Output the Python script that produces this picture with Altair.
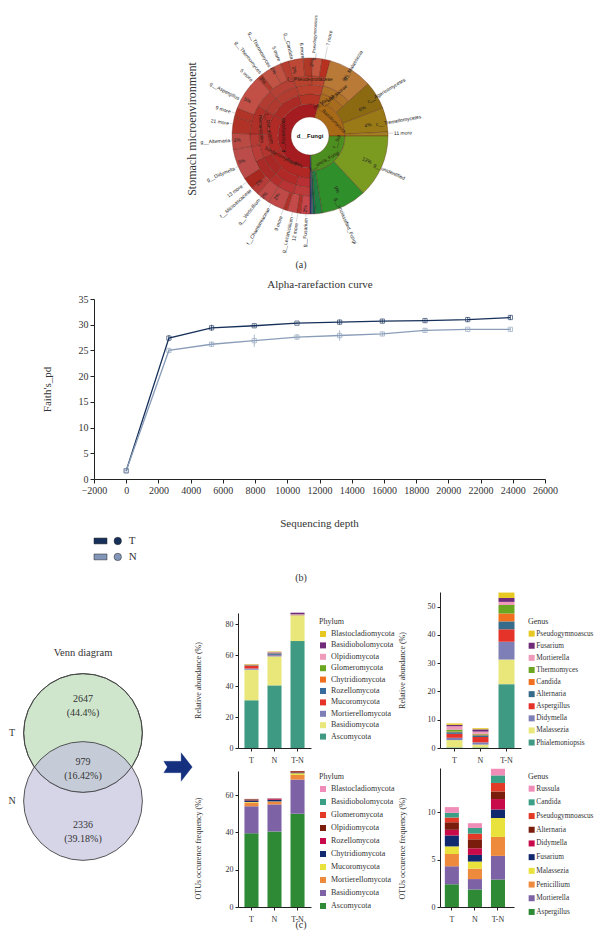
import math
import altair as alt
import pandas as pd

SERIF = "Liberation Serif"
SANS = "Liberation Sans"
INK = "#333333"

# ---------- (a) krona ----------
CX, CY = 300, 128
seg_r0 = [19,19,19,19, 32,32,32,32, 42,42,42,42,42,42,42,42, 51,51,51,51,51,51,51,51,51,51,51,
          60,60,60,60,60,60,60,60,60,60,60,60,60,60,60,60,60,60,60,60,60,
          35,44,52,35,35,35, 35,35,35,35,35,35]
seg_r1 = [32,35,35,35, 42,42,42,42, 51,51,51,51,51,51,51,51, 60,60,60,60,60,60,60,60,60,60,60,
          78,78,78,78,78,78,78,78,78,78,78,78,78,78,78,78,78,78,78,78,78,
          44,52,78,78,78,78, 78,78,78,78,78,78]
seg_a0 = [180,15,90,178, 180,245,300,345, 180,196,222,245,272,300,318,345, 180,196,212,222,245,260,272,300,318,344,362,
          180,187,190,197,200,212,222,228,237,260,272,284,291,318,322,331,338,344,355,362,369,
          15,15,15,48,69,87, 90,137,171,176,178,179]
seg_a1 = [375,90,178,180, 245,300,345,375, 196,222,245,272,300,318,345,375, 196,212,222,245,260,272,300,318,344,362,375,
          187,190,197,200,212,222,228,237,260,272,284,291,318,322,331,338,344,355,362,369,375,
          48,48,48,69,87,90, 137,171,176,178,179,180]
seg_col = ["#a51c20","#a96a18","#4d8e20","#1f4f8f",
           "#b12724","#b02a26","#aa2a25","#b43526",
           "#b83033","#b12a28","#a82826","#b53530","#ad2e28","#b03a30","#b23c30","#b8402c",
           "#bc3a3a","#b83434","#b22e2c","#a92a26","#b83c38","#b63a34","#ae3028","#b33c32","#b54036","#b8422e","#bb4630",
           "#c8454c","#b23028","#c44a4a","#b23028","#c04a48","#bf4a48","#b63a38","#a8271f","#bb4c4a","#ba4a44","#b13226",
           "#b03428","#c25046","#b23a2c","#c25446","#c05244","#b63e30","#bd4836","#b03826","#c4553f","#b8301f",
           "#a86c1e","#ae7226","#b97a38","#8c6a12","#9a7a16","#a08020",
           "#7a9a20","#2f8f2a","#1f8040","#0c6a50","#1f6fa0","#1a3a8a"]

out_t = [3,11,31,59,80,88,114,157,183,189,193,200,210,219,228,234,247,267,279,287,298,314,322,330,338,347,355]
out_r = [76,92,66,67,67,84,70,67,82,88,83,85,83,81,80,84,82,80,82,83,80,80,80,80,81,79,78]
out_f = [4.2] + [5] * 26
out_txt = ["g__Pseudogymnoascus","7 more","g__Malassezia","c__Agaricomycetes","c__Tremellomycetes","11 more",
           "g__unidentified","g__unclassified_Fungi","g__Fusarium","12 more","g__Lecanicillium","9 more",
           "f__Chaetomiaceae","g__Verticillium","f__Microascaceae","13 more","g__Didymella","g__Alternaria",
           "21 more","9 more","g__Aspergillus","5 more","g__Thermomyces","g__Thermomyces","5 more","g__Candida","6 more"]
pct_t = [1,347,331,320,300,267,250,228,218,209,184,153,113,62,79,31]
pct_r = [73,68,75,73,72,73,73,69,75,69,73,60,62,59,59,68]
pct_txt = ["2%","3%","2%","3%","5%","3%","5%","2%","2%","2%","2%","9%","12%","6%","4%","9%"]
inner_t = [0,32,24,50,280,272,278,235,210,150,102]
inner_r = [56,47,38,27,42,26,50,36,31,29,28]
inner_ang = [0,320,330,45,80,270,85,28,28,330,290]
inner_txt = ["f__Pseudeurotiaceae","f__Mal_iaceae","o__Mal_ales","p__Basidiomycota","f__Dot_yosom",
             "p__Ascomycota","Pleosporales","Sordariomycetes","o__ales","k__uncla_Fungi","f__Sol"]


def polar(t, r):
    a = math.radians(t)
    return CX + r * math.sin(a), CY - r * math.cos(a)


df_seg = pd.DataFrame({"r0": seg_r0, "r1": seg_r1, "a0": [math.radians(v) for v in seg_a0],
                       "a1": [math.radians(v) for v in seg_a1], "col": seg_col})
arcs = alt.Chart(df_seg).mark_arc(stroke="#5e2418", strokeWidth=0.35).encode(
    theta=alt.Theta("a0:Q", scale=None, stack=None), theta2="a1:Q",
    radius=alt.Radius("r1:Q", scale=None), radius2="r0:Q",
    color=alt.Color("col:N", scale=None),
    x=alt.value(CX), y=alt.value(CY))
df_hole = pd.DataFrame({"x": [CX], "y": [CY], "t": ["d__Fungi"]})


def lab_rows():
    rows = []
    for t, r, s, f in zip(out_t, out_r, out_txt, out_f):
        x, y = polar(t, r)
        ang = (t - 90) % 360 if t <= 180 else (t + 90) % 360
        rows.append(dict(x=x, y=y, ang=ang, s=s, f=f, side="L" if t <= 180 else "R"))
    return pd.DataFrame(rows)


df_lab = lab_rows()
def txt_enc(**kw):
    return dict(x=alt.X("x:Q", scale=None), y=alt.Y("y:Q", scale=None),
                angle=alt.Angle("ang:Q", scale=None), text="s:N", **kw)
lab_l = alt.Chart(df_lab[df_lab.side == "L"]).mark_text(font=SANS, align="left", baseline="middle", color="#222222").encode(
    size=alt.Size("f:Q", scale=None), **txt_enc())
lab_r = alt.Chart(df_lab[df_lab.side == "R"]).mark_text(font=SANS, align="right", baseline="middle", color="#222222").encode(
    size=alt.Size("f:Q", scale=None), **txt_enc())
rows = []
for t, r, s in zip(pct_t, pct_r, pct_txt):
    x, y = polar(t, r)
    rows.append(dict(x=x, y=y, ang=(t - 90) % 360 if t <= 180 else (t + 90) % 360, s=s))
lab_p = alt.Chart(pd.DataFrame(rows)).mark_text(font=SANS, fontSize=5, baseline="middle", color="#222222").encode(**txt_enc())
rows = []
for t, r, a, s in zip(inner_t, inner_r, inner_ang, inner_txt):
    x, y = polar(t, r)
    rows.append(dict(x=x, y=y, ang=a, s=s))
lab_i = alt.Chart(pd.DataFrame(rows)).mark_text(font=SANS, fontSize=4.8, baseline="middle", color="#2a1a10").encode(**txt_enc())
rows = []
for t, r in zip(out_t, out_r):
    if r >= 78 and t not in (3,):
        x, y = polar(t, 78)
        x2, y2 = polar(t, r - 1)
        rows.append(dict(x=x, y=y, x2=x2, y2=y2))
lead = alt.Chart(pd.DataFrame(rows)).mark_rule(color="#999999", strokeWidth=0.4).encode(
    x=alt.X("x:Q", scale=None), y=alt.Y("y:Q", scale=None), x2="x2:Q", y2="y2:Q")
center = alt.Chart(df_hole).mark_text(font=SANS, fontSize=6, fontWeight="bold", color="#111111").encode(
    x=alt.X("x:Q", scale=None), y=alt.Y("y:Q", scale=None), text="t:N")
stomach = alt.Chart(pd.DataFrame({"s": ["Stomach microenvironment"]})).mark_text(
    font=SERIF, fontSize=12, angle=270, color=INK, baseline="middle").encode(x=alt.value(182), y=alt.value(121), text="s:N")
tag_a = alt.Chart(pd.DataFrame({"s": ["(a)"]})).mark_text(font=SERIF, fontSize=10, color=INK, baseline="middle").encode(
    x=alt.value(291), y=alt.value(257), text="s:N")
guard = alt.Chart(pd.DataFrame({"g": [0]})).mark_rule(opacity=0).encode(x=alt.value(0), x2=alt.value(10), y=alt.value(-10))
panel_a = alt.layer(arcs, lead, lab_l, lab_r, lab_p, lab_i, center, stomach, tag_a, guard).properties(width=586, height=178)

# ---------- (b) rarefaction ----------
depth = [0, 2650, 5300, 7950, 10600, 13250, 15900, 18550, 21200, 23850]
t_y = [1.6, 27.4, 29.4, 29.8, 30.3, 30.5, 30.7, 30.8, 31.0, 31.4]
n_y = [1.6, 25.0, 26.2, 26.9, 27.6, 27.9, 28.2, 28.9, 29.1, 29.1]
t_err = [0.1, 0.6, 0.6, 0.3, 0.2, 0.5, 0.4, 0.4, 0.5, 0.5]
n_err = [0.1, 0.4, 0.5, 1.2, 0.5, 1.0, 0.4, 0.4, 0.2, 0.3]
df_b = pd.concat([
    pd.DataFrame({"x": depth, "y": t_y, "lo": [a - b for a, b in zip(t_y, t_err)], "hi": [a + b for a, b in zip(t_y, t_err)], "g": "T"}),
    pd.DataFrame({"x": depth, "y": n_y, "lo": [a - b for a, b in zip(n_y, n_err)], "hi": [a + b for a, b in zip(n_y, n_err)], "g": "N"})])
x_b = alt.X("x:Q", scale=alt.Scale(domain=[-2000, 26000], range=[84, 535], nice=False),
            axis=alt.Axis(values=list(range(-2000, 26001, 2000)), tickCount=30, format="d", grid=False, labelFont=SERIF, labelFontSize=10,
                          labelColor=INK, domainColor="#222222", tickColor="#222222", tickSize=4, labelOverlap=False, labelFlush=False,
                          title="Sequencing depth", titleFont=SERIF, titleFontSize=11, titleFontWeight="normal", titleColor=INK,
                          titleX=309, titleY=38))
y_b = alt.Y("y:Q", scale=alt.Scale(domain=[0, 35], range=[180, 0], nice=False),
            axis=alt.Axis(values=[0, 5, 10, 15, 20, 25, 30, 35], tickCount=30, format="d", grid=False, labelFont=SERIF, labelFontSize=10, labelColor=INK,
                          domainColor="#222222", tickColor="#222222", tickSize=4, offset=-84, labelOverlap=False, labelFlush=False,
                          title="Faith's_pd", titleFont=SERIF, titleFontSize=11, titleFontWeight="normal", titleColor=INK,
                          titleX=-42, titleY=90))
col_b = alt.Color("g:N", scale=alt.Scale(domain=["T", "N"], range=["#16305a", "#8a9db8"]), legend=None)
line_b = alt.Chart(df_b).mark_line(strokeWidth=1.3).encode(x=x_b, y=y_b, color=col_b, detail="g:N", order=alt.Order("x:Q"))
rule_b = alt.Chart(df_b).mark_rule(strokeWidth=0.7).encode(x="x:Q", y="lo:Q", y2="hi:Q", color=col_b)
pt_b = alt.Chart(df_b).mark_point(shape="square", size=18, strokeWidth=0.9, filled=False).encode(x="x:Q", y="y:Q", color=col_b)
leg_x = [-2000, -2000]; leg_y = [-12.05, -15.15]; leg_c = ["#16305a", "#8296b8"]
df_leg = pd.DataFrame({"x": leg_x, "y": leg_y, "c": leg_c, "cx": [-525, -525], "tx": [159, 159], "s": ["T", "N"]})
leg_rect = alt.Chart(df_leg).mark_point(shape="M0 -0.45 H2 V0.45 H0 Z", size=169, filled=True, opacity=1, stroke="#222", strokeWidth=0.5).encode(
    x="x:Q", y="y:Q", fill=alt.Fill("c:N", scale=None))
leg_c_m = alt.Chart(df_leg).mark_point(shape="circle", size=55, filled=True, opacity=1, stroke="#222", strokeWidth=0.5).encode(
    x="cx:Q", y="y:Q", fill=alt.Fill("c:N", scale=None))
leg_t = alt.Chart(df_leg).mark_text(font=SERIF, fontSize=11, align="left", color=INK, baseline="middle").encode(
    x="tx:Q", y="y:Q", text="s:N")
title_b = alt.Chart(pd.DataFrame({"s": ["Alpha-rarefaction curve"]})).mark_text(font=SERIF, fontSize=11, color=INK, baseline="middle").encode(
    x=alt.value(310), y=alt.value(-14), text="s:N")
tag_b = alt.Chart(pd.DataFrame({"s": ["(b)"]})).mark_text(font=SERIF, fontSize=10, color=INK, baseline="middle").encode(
    x=alt.value(291), y=alt.value(279), text="s:N")
panel_b = alt.layer(line_b, rule_b, pt_b, leg_rect, leg_c_m, leg_t, title_b, tag_b).properties(width=535, height=180)

# ---------- (c) venn ----------
vx = [73, 73]; vy = [141, 209]; v_r = 67
v_fill = ["#cfe6cd", "#c0bfdc"]
df_v = pd.DataFrame({"x": vx, "y": vy, "c": v_fill, "a": [math.pi * v_r ** 2] * 2})
c1 = alt.Chart(df_v.iloc[:1]).mark_point(shape="circle", filled=True, opacity=1, fill=v_fill[0], stroke="#444444", strokeWidth=0.9).encode(
    x=alt.X("x:Q", scale=None), y=alt.Y("y:Q", scale=None), size=alt.Size("a:Q", scale=None))
c2 = alt.Chart(df_v.iloc[1:]).mark_point(shape="circle", filled=True, opacity=1, fill=v_fill[1], fillOpacity=0.65, stroke="#444444", strokeWidth=0.9).encode(
    x=alt.X("x:Q", scale=None), y=alt.Y("y:Q", scale=None), size=alt.Size("a:Q", scale=None))
c3 = alt.Chart(df_v.iloc[:1]).mark_point(shape="circle", filled=False, opacity=1, stroke="#444444", strokeWidth=0.9).encode(
    x=alt.X("x:Q", scale=None), y=alt.Y("y:Q", scale=None), size=alt.Size("a:Q", scale=None))
vt_x = [73, 73, 73, 73, 73, 73, 73, 2, 2]
vt_y = [107, 121, 170, 184, 233, 247, 61, 141, 209]
vt_s = ["2647", "(44.4%)", "979", "(16.42%)", "2336", "(39.18%)", "Venn diagram", "T", "N"]
vt_f = [10, 10, 10, 10, 10, 10, 10.5, 10, 10]
df_vt = pd.DataFrame({"x": vt_x, "y": vt_y, "s": vt_s, "f": vt_f})
vt = alt.Chart(df_vt).mark_text(font=SERIF, color=INK, align="center", baseline="middle").encode(
    x=alt.X("x:Q", scale=None), y=alt.Y("y:Q", scale=None), text="s:N", size=alt.Size("f:Q", scale=None))
arrow = alt.Chart(pd.DataFrame({"x": [168], "y": [175], "a": [810]})).mark_point(
    shape="M-1 -0.4 L0.22 -0.4 L0.22 -1 L1 0 L0.22 1 L0.22 0.4 L-1 0.4 L-0.75 0 Z", filled=True, opacity=1, fill="#14307f", stroke="#14307f", strokeWidth=0.3).encode(
    x=alt.X("x:Q", scale=None), y=alt.Y("y:Q", scale=None), size=alt.Size("a:Q", scale=None))
panel_v = alt.layer(c1, c2, c3, vt, arrow).properties(width=228, height=156)

# ---------- (c) bars ----------
groups = ["T", "N", "T-N"]
p1_names = ["Ascomycota","Basidiomycota","Mortierellomycota","Mucoromycota","Rozellomycota","Chytridiomycota","Glomeromycota","Olpidiomycota","Basidiobolomycota","Blastocladiomycota"]
p1_cols = ["#3f9a84","#e9e77a","#7f7fb8","#e5332a","#376b9c","#f07020","#6aa620","#ee9ab8","#6f2b79","#e6c820"]
p1_T = [30.8,19.7,0.8,1.6,0.4,0.3,0.1,0.1,0.1,0.3]
p1_N = [40.4,18.7,0.8,0.2,1.0,0.3,0.1,0.3,0.2,0.3]
p1_TN = [69.0,16.6,0.1,0.1,0.1,0.1,0.1,0.2,1.0,0.0]

p2_names = ["Phialemoniopsis","Malassezia","Didymella","Aspergillus","Alternaria","Candida","Thermomyces","Mortierella","Fusarium","Pseudogymnoascus"]
p2_cols = ["#3f9a84","#e9e77a","#7f7fb8","#e5332a","#376b8c","#f07020","#6aa620","#ee9ab8","#6f2b79","#e6c820"]
p2_T = [0.2,2.6,0.8,1.4,0.6,0.2,0.7,1.2,0.5,0.5]
p2_N = [0.2,1.0,0.8,1.9,0.6,0.3,0.2,0.8,0.8,0.4]
p2_TN = [22.6,8.7,6.3,4.4,2.8,2.8,3.0,1.1,1.4,1.9]

p3_names = ["Ascomycota","Basidiomycota","Mortierellomycota","Mucoromycota","Chytridiomycota","Rozellomycota","Olpidiomycota","Glomeromycota","Basidiobolomycota","Blastocladiomycota"]
p3_cols = ["#2f8a36","#7e62a6","#ee8a3c","#e9e23c","#10296e","#c80a4a","#7a1d0d","#e33a28","#3a9f85","#f08cb8"]
p3_T = [39.5,14.5,2.0,0.3,0.7,0.1,0.6,0.1,0.1,0.1]
p3_N = [40.5,14.5,1.5,0.1,0.9,0.5,0.1,0.1,0.1,0.1]
p3_TN = [50.0,18.3,2.5,0.9,0.3,0.1,0.7,0.1,0.0,0.0]

p4_names = ["Aspergillus","Mortierella","Penicillium","Malassezia","Fusarium","Didymella","Alternaria","Pseudogymnoascus","Candida","Russula"]
p4_cols = ["#2f8a36","#7e62a6","#ee8a3c","#e9e23c","#10296e","#c80a4a","#7a1d0d","#e33a28","#3a9f85","#f08cb8"]
p4_T = [2.4,1.9,1.3,0.8,1.15,0.6,0.8,0.5,0.5,0.6]
p4_N = [1.85,1.1,1.1,0.75,0.7,0.7,0.95,0.6,0.6,0.5]
p4_TN = [2.9,2.5,2.0,2.0,0.9,1.1,0.8,0.9,0.8,0.7]


def bar_panel(names, cols, vals, vw, xrange, pi, po, align, ydom, yrange, yticks, vh, ytitle, tx, ty, lx, ly, rowpad, ltitle, lfont=8, loff=4):
    rows = []
    for g, v in zip(groups, vals):
        for i, (n, w) in enumerate(zip(names, v)):
            rows.append(dict(g=g, n=n, v=w, o=i))
    df = pd.DataFrame(rows)
    return alt.Chart(df).mark_bar(stroke=None).encode(
        x=alt.X("g:N", sort=groups, scale=alt.Scale(domain=groups, range=xrange, paddingInner=pi, paddingOuter=po, align=align),
                axis=alt.Axis(title=None, labelAngle=0, labelFont=SERIF, labelFontSize=8, labelColor=INK, domainColor="#222222",
                              tickColor="#222222", tickSize=3, labelPadding=5)),
        y=alt.Y("v:Q", stack="zero", scale=alt.Scale(domain=ydom, range=yrange, nice=False),
                axis=alt.Axis(values=yticks, tickCount=30, format="d", grid=False, labelFont=SERIF, labelFontSize=8, labelColor=INK, domainColor="#222222",
                              tickColor="#222222", tickSize=3, title=ytitle, titleFont=SERIF, titleFontSize=8,
                              titleFontWeight="normal", titleColor=INK, titleX=tx, titleY=ty)),
        color=alt.Color("n:N", scale=alt.Scale(domain=names[::-1], range=cols[::-1]),
                        legend=alt.Legend(title=ltitle, orient="none", legendX=lx, legendY=ly, symbolType="square", symbolSize=36,
                                          symbolStrokeWidth=0, labelFont=SERIF, labelFontSize=lfont, labelColor=INK, titleFont=SERIF,
                                          titleFontSize=8, titleFontWeight="normal", titleColor=INK, rowPadding=rowpad,
                                          titlePadding=4, labelOffset=loff, columns=1)),
        order=alt.Order("o:Q"),
    ).properties(width=vw, height=vh)


b1 = bar_panel(p1_names, p1_cols, [p1_T, p1_N, p1_TN], 202, [0, 73], 0.39, 0.28, 0.5, [0, 87.1], [156, 21], [0, 20, 40, 60, 80], 156,
               "Relative abundance (%)", -36, 88, 81, 26, 3.4, "Phylum")
b2 = bar_panel(p2_names, p2_cols, [p2_T, p2_N, p2_TN], 81, [0, 81], 0.385, 0.25, 0.5, [0, 55.2], [156, 0], [0, 10, 20, 30, 40, 50], 156,
               "Relative abundance (%)", -34, 78, 88, 26, 4.1, "Genus", 7.3, 1)
b3 = bar_panel(p3_names, p3_cols, [p3_T, p3_N, p3_TN], 202, [0, 73], 0.39, 0.28, 0.5, [0, 72.9], [202, 66], [0, 20, 40, 60], 202,
               "OTUs occurence frequency (%)", -36, 143, 81, 68, 5.0, "Phylum")
b4 = bar_panel(p4_names, p4_cols, [p4_T, p4_N, p4_TN], 74, [0, 74], 0.39, 0.3, 0.35, [0, 14.68], [202, 63], [0, 5, 10], 202,
               "OTUs occurence frequency (%)", -34, 143, 88, 68, 5.7, "Genus", 7.3, 1)
tag_c = alt.Chart(pd.DataFrame({"s": ["(c)"]})).mark_text(font=SERIF, fontSize=10, color=INK, baseline="middle").encode(
    x=alt.value(291), y=alt.value(220), text="s:N").properties(width=228, height=202)

row3 = alt.hconcat(panel_v, b1, b2, spacing=0, bounds="flush").resolve_scale(color="independent")
row4 = alt.hconcat(tag_c, b3, b4, spacing=0, bounds="flush").resolve_scale(color="independent")
chart = alt.vconcat(panel_a, panel_b, row3, row4, spacing=113, bounds="flush").properties(
    padding={"left": 0, "top": -10, "right": -2, "bottom": 0}).configure_view(strokeWidth=0).resolve_scale(color="independent")
chart.save("out.html", embed_options={"renderer": "svg", "actions": False})
